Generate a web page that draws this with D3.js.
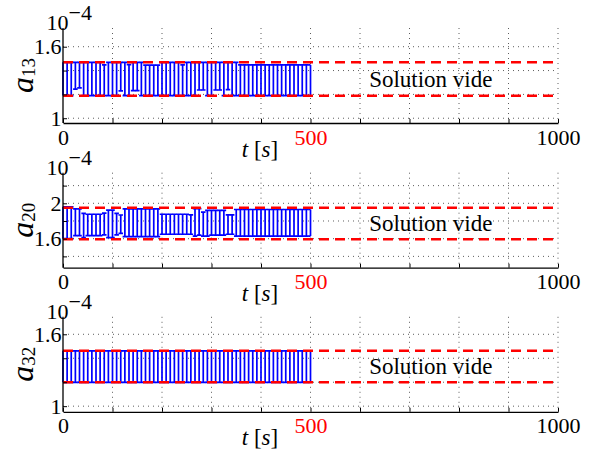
<!DOCTYPE html>
<html><head><meta charset="utf-8">
<script src="https://cdn.jsdelivr.net/npm/d3@7"></script>
<style>body{margin:0;background:#fff} svg{display:block}</style>
</head><body>
<svg id="c" width="590" height="452"></svg>
<script>
// ---------- data ----------
const times = [0,8.33,16.67,25,33.33,41.67,50,58.33,66.67,75,83.33,91.67,100,108.33,116.67,125,133.33,141.67,150,158.33,
  166.67,175,183.33,191.67,200,208.33,216.67,225,233.33,241.67,250,258.33,266.67,275,283.33,291.67,300,308.33,316.67,325,
  333.33,341.67,350,358.33,366.67,375,383.33,391.67,400,408.33,416.67,425,433.33,441.67,450,458.33,466.67,475,483.33,491.67,500];

const xTicks = [0,100,200,300,400,500,600,700,800,900,1000];
const xTickLabels = ["0","","","","","500","","","","","1000"];

const names = ["13","20","32"];
const yDomains = [[0.96,1.757],[1.272,2.346],[0.953,1.746]];
const yGrid = [[1,1.2,1.4,1.6],[1.4,1.6,1.8,2,2.2],[1,1.2,1.4,1.6]];
const yTickLabels = [["1","","","1.6"],["","1.6","","2",""],["1","","","1.6"]];
const bounds = [[1.469,1.189],[1.95,1.593],[1.462,1.199]];
const emptyText = "Solution vide";
const emptyTextT = 743;

const hi13 = [1.469,1.469,1.469,1.469,1.469,1.469,1.469,1.469,1.469,1.469,1.447,1.469,1.469,1.469,1.469,1.469,1.45,1.469,1.469,1.469,
  1.445,1.445,1.445,1.445,1.469,1.469,1.469,1.469,1.469,1.447,1.469,1.469,1.469,1.469,1.469,1.469,1.469,1.469,1.469,1.469,
  1.469,1.469,1.469,1.447,1.447,1.447,1.447,1.447,1.447,1.447,1.447,1.447,1.447,1.447,1.447,1.447,1.447,1.447,1.447,1.447,1.447];
const lo13 = [1.19,1.19,1.19,1.245,1.255,1.19,1.19,1.19,1.19,1.19,1.19,1.19,1.19,1.19,1.23,1.19,1.19,1.232,1.232,1.19,
  1.19,1.19,1.19,1.19,1.19,1.19,1.19,1.19,1.19,1.19,1.19,1.19,1.19,1.237,1.237,1.19,1.19,1.237,1.237,1.19,
  1.24,1.19,1.19,1.19,1.19,1.19,1.19,1.19,1.19,1.19,1.19,1.19,1.19,1.19,1.19,1.19,1.19,1.19,1.19,1.19,1.19];

const hi20 = [1.96,1.96,1.96,1.936,1.936,1.887,1.876,1.876,1.876,1.876,1.89,1.924,1.924,1.887,1.868,1.936,1.936,1.936,1.936,1.936,
  1.936,1.936,1.936,1.936,1.876,1.876,1.876,1.876,1.876,1.876,1.876,1.87,1.94,1.94,1.90,1.92,1.92,1.92,1.92,1.92,
  1.87,1.87,1.93,1.93,1.93,1.93,1.93,1.93,1.93,1.93,1.93,1.93,1.93,1.93,1.93,1.93,1.93,1.93,1.93,1.93,1.93];
const lo20 = [1.60,1.60,1.60,1.634,1.634,1.611,1.634,1.634,1.634,1.634,1.642,1.611,1.611,1.642,1.661,1.623,1.623,1.623,1.623,1.623,
  1.623,1.623,1.623,1.623,1.65,1.65,1.65,1.65,1.65,1.65,1.65,1.65,1.63,1.64,1.63,1.63,1.64,1.64,1.64,1.64,
  1.65,1.65,1.63,1.63,1.63,1.63,1.63,1.63,1.63,1.63,1.63,1.63,1.63,1.63,1.63,1.63,1.63,1.63,1.63,1.63,1.63];

const hi32 = [1.462,1.462,1.462,1.462,1.462,1.462,1.462,1.462,1.462,1.462,1.462,1.462,1.462,1.462,1.462,1.462,1.462,1.462,1.462,1.462,
  1.462,1.462,1.462,1.462,1.462,1.462,1.462,1.462,1.462,1.462,1.462,1.462,1.462,1.462,1.462,1.462,1.462,1.462,1.462,1.462,
  1.462,1.462,1.462,1.462,1.462,1.462,1.462,1.462,1.462,1.462,1.462,1.462,1.462,1.462,1.462,1.462,1.462,1.462,1.462,1.462,1.462];
const lo32 = [1.199,1.199,1.199,1.199,1.199,1.199,1.199,1.199,1.199,1.199,1.199,1.199,1.199,1.199,1.199,1.199,1.199,1.199,1.199,1.199,
  1.199,1.199,1.199,1.199,1.199,1.199,1.199,1.199,1.199,1.199,1.199,1.199,1.199,1.199,1.199,1.199,1.199,1.199,1.199,1.199,
  1.199,1.199,1.199,1.199,1.199,1.199,1.199,1.199,1.199,1.199,1.199,1.199,1.199,1.199,1.199,1.199,1.199,1.199,1.199,1.199,1.199];

const his = [hi13, hi20, hi32];
const los = [lo13, lo20, lo32];

// ---------- drawing ----------
const FONT = '"Liberation Serif", serif';
const svg = d3.select('#c');
const L = 63, R = 558, H = 95, tops = [28, 172.7, 316.8];
const tee = 4.6;
const x = d3.scaleLinear().domain([0, 1000]).range([L, R]);

names.forEach((nm, i) => {
  const top = tops[i], bot = top + H;
  const y = d3.scaleLinear().domain(yDomains[i]).range([bot, top]);
  const g = svg.append('g');

  // grid
  g.selectAll('line.vg').data(xTicks.filter(d => d > 0)).join('line')
    .attr('x1', d => x(d)).attr('x2', d => x(d)).attr('y1', top).attr('y2', bot)
    .attr('stroke', '#333').attr('stroke-width', 0.8).attr('stroke-dasharray', '1,4');
  g.selectAll('line.hg').data(yGrid[i]).join('line')
    .attr('x1', L).attr('x2', R).attr('y1', d => y(d)).attr('y2', d => y(d))
    .attr('stroke', '#333').attr('stroke-width', 0.8).attr('stroke-dasharray', '1,4');

  // interval bars
  const hi = his[i], lo = los[i];
  const tmin = d3.min(times), tmax = d3.max(times);
  g.append('g').selectAll('path').data(times).join('path')
    .attr('d', (t, k) => {
      const xa = x(Math.max(tmin, t - tee)), xb = x(Math.min(tmax, t + tee));
      return `M${x(t)},${y(lo[k])}V${y(hi[k])}M${xa},${y(hi[k])}H${xb}M${xa},${y(lo[k])}H${xb}`;
    })
    .attr('fill', 'none').attr('stroke', '#0000ff').attr('stroke-width', 1.7);

  // bounds (red dashed)
  g.selectAll('line.rb').data(bounds[i]).join('line')
    .attr('x1', x(0)).attr('x2', x(1000)).attr('y1', d => y(d)).attr('y2', d => y(d))
    .attr('stroke', '#ff0000').attr('stroke-width', 2.5).attr('stroke-dasharray', '10,6');

  // empty-solution text
  const ym = (y(bounds[i][0]) + y(bounds[i][1])) / 2;
  g.append('text').attr('x', x(emptyTextT)).attr('y', ym + 7.8)
    .attr('text-anchor', 'middle').attr('font-size', 23)
    .text(emptyText);

  // axes
  const ax = g.append('g').attr('transform', `translate(0,${bot})`)
    .call(d3.axisBottom(x).tickValues(xTicks).tickSizeInner(-4).tickSizeOuter(0)
      .tickPadding(6).tickFormat((d, j) => xTickLabels[j]));
  ax.selectAll('text').attr('font-size', 22)
    .attr('fill', d => d === 500 ? '#ff0000' : '#000');
  const ay = g.append('g').attr('transform', `translate(${L},0)`)
    .call(d3.axisLeft(y).tickValues(yGrid[i]).tickSizeInner(-4).tickSizeOuter(0)
      .tickPadding(1.5).tickFormat((d, j) => yTickLabels[i][j]));
  ay.selectAll('text').attr('font-size', 22).attr('fill', '#000');
  [ax, ay].forEach(a => {
    a.attr('font-size', 22).attr('font-family', null);
    a.select('.domain').attr('stroke', '#000').attr('stroke-width', 1.3);
    a.selectAll('.tick line').attr('stroke', '#000').attr('stroke-width', 1);
  });
  ay.select('.domain').attr('d', `M0,${top}V${bot}`);

  // exponent 10^-4
  const ex = g.append('text').attr('x', 46.5).attr('y', top + 2).attr('font-size', 22);
  ex.append('tspan').text('10');
  ex.append('tspan').attr('dy', -10).text('\u22124');

  // y label a_nm
  const yl = g.append('text')
    .attr('transform', `translate(33,${(top + bot) / 2}) rotate(-90)`)
    .attr('text-anchor', 'middle');
  yl.append('tspan').attr('font-size', 32).attr('font-style', 'italic').text('a');
  yl.append('tspan').attr('font-size', 19).attr('dy', 2).text(nm);

  // x label t [s]
  const xl = g.append('text').attr('x', 260).attr('y', bot + 33.5)
    .attr('text-anchor', 'middle').attr('font-size', 23);
  xl.append('tspan').attr('font-style', 'italic').text('t');
  xl.append('tspan').text(' [');
  xl.append('tspan').attr('font-style', 'italic').text('s');
  xl.append('tspan').text(']');
});
svg.selectAll('text').style('font-family', FONT);
</script>
</body></html>
